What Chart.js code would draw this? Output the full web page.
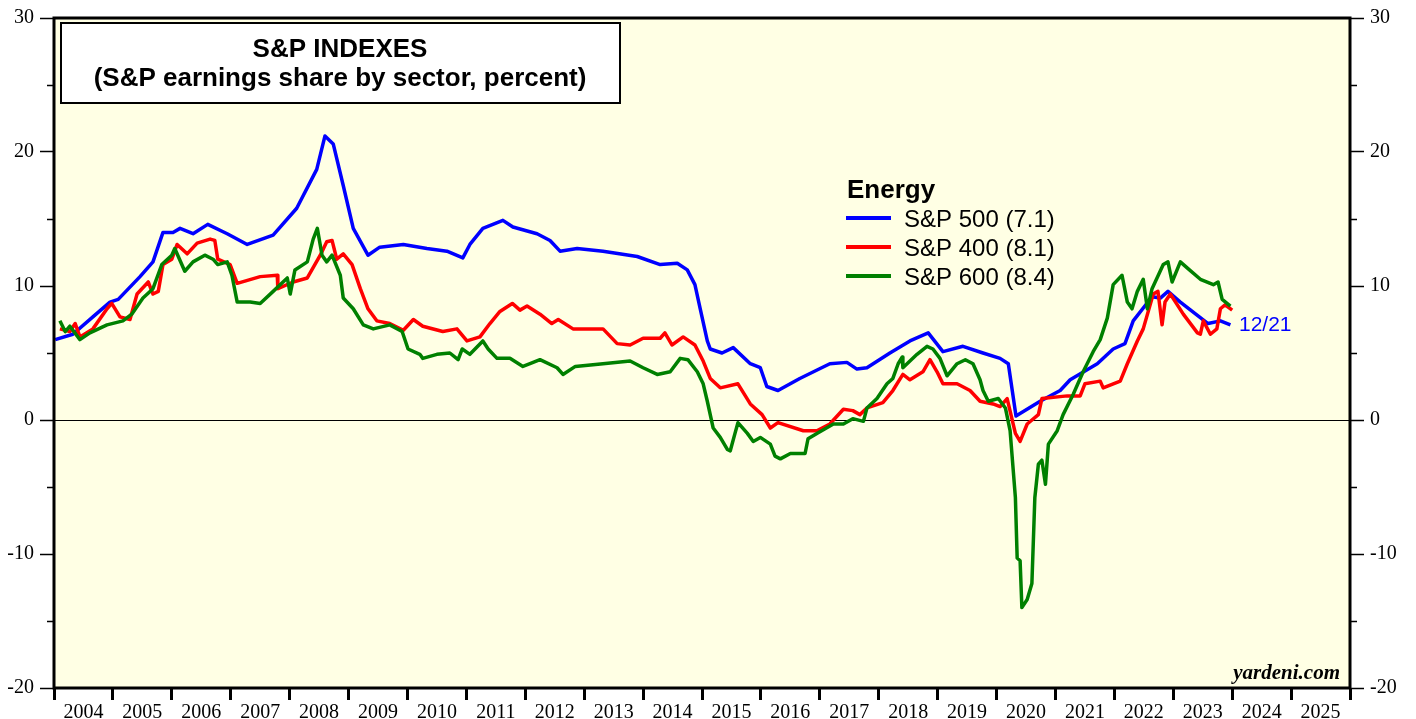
<!DOCTYPE html>
<html>
<head>
<meta charset="utf-8">
<title>S&amp;P Indexes - Energy earnings share</title>
<script src="https://cdn.jsdelivr.net/npm/chart.js@4.4.1/dist/chart.umd.min.js"></script>
<style>
  html, body { margin: 0; padding: 0; background: #fff; }
  #myChart { display: block; }
</style>
</head>
<body>
<canvas id="myChart" width="1416" height="719"></canvas>
<script>
// values (x = decimal year, y = percent)
var sp500Dates = [2004.02, 2004.32, 2004.66, 2004.95, 2005.09, 2005.46, 2005.68, 2005.85, 2006.02, 2006.14,
    2006.36, 2006.61, 2006.94, 2007.28, 2007.72, 2008.12, 2008.46, 2008.60, 2008.74, 2008.91,
    2009.08, 2009.33, 2009.53, 2009.93, 2010.33, 2010.67, 2010.94, 2011.06, 2011.28, 2011.62,
    2011.79, 2012.20, 2012.42, 2012.59, 2012.88, 2013.32, 2013.90, 2014.29, 2014.58, 2014.75,
    2014.88, 2014.97, 2015.09, 2015.14, 2015.34, 2015.53, 2015.82, 2015.99, 2016.10, 2016.29,
    2016.66, 2017.17, 2017.46, 2017.63, 2017.80, 2018.19, 2018.53, 2018.84, 2019.09, 2019.43,
    2019.77, 2020.06, 2020.20, 2020.33, 2020.74, 2021.08, 2021.25, 2021.71, 2021.98, 2022.18,
    2022.32, 2022.64, 2022.78, 2022.91, 2023.12, 2023.59, 2023.80, 2023.97];
var sp500Vals = [6.0, 6.4, 7.7, 8.8, 9.0, 10.7, 11.8, 14.0, 14.0, 14.3,
    13.9, 14.6, 13.9, 13.1, 13.8, 15.8, 18.7, 21.2, 20.6, 17.5,
    14.3, 12.3, 12.9, 13.1, 12.8, 12.6, 12.1, 13.1, 14.3, 14.9,
    14.4, 13.9, 13.4, 12.6, 12.8, 12.6, 12.2, 11.6, 11.7, 11.2,
    10.1, 8.3, 5.9, 5.3, 5.0, 5.4, 4.2, 3.9, 2.5, 2.2,
    3.1, 4.2, 4.3, 3.8, 3.9, 5.0, 5.9, 6.5, 5.1, 5.5,
    5.0, 4.6, 4.2, 0.3, 1.4, 2.2, 3.0, 4.2, 5.3, 5.7,
    7.4, 9.2, 9.1, 9.6, 8.8, 7.2, 7.4, 7.1];

var sp400Dates = [2004.10, 2004.27, 2004.36, 2004.44, 2004.66, 2004.90, 2004.98, 2005.12, 2005.29, 2005.41,
    2005.60, 2005.68, 2005.77, 2005.85, 2006.00, 2006.09, 2006.26, 2006.43, 2006.65, 2006.73,
    2006.78, 2006.99, 2007.11, 2007.50, 2007.79, 2007.80, 2008.06, 2008.30, 2008.52, 2008.63,
    2008.72, 2008.80, 2008.91, 2009.06, 2009.20, 2009.33, 2009.48, 2009.70, 2009.93, 2010.10,
    2010.26, 2010.60, 2010.84, 2011.01, 2011.23, 2011.40, 2011.57, 2011.78, 2011.91, 2012.03,
    2012.25, 2012.45, 2012.56, 2012.81, 2013.32, 2013.56, 2013.78, 2014.00, 2014.29, 2014.37,
    2014.49, 2014.68, 2014.88, 2015.02, 2015.14, 2015.31, 2015.61, 2015.82, 2016.02, 2016.16,
    2016.29, 2016.72, 2016.95, 2017.17, 2017.40, 2017.56, 2017.68, 2017.80, 2018.07, 2018.24,
    2018.41, 2018.53, 2018.75, 2018.87, 2018.99, 2019.09, 2019.33, 2019.55, 2019.72, 2019.94,
    2020.06, 2020.18, 2020.32, 2020.40, 2020.52, 2020.71, 2020.77, 2021.20, 2021.42, 2021.50,
    2021.76, 2021.81, 2022.10, 2022.22, 2022.39, 2022.49, 2022.66, 2022.74, 2022.81, 2022.86,
    2022.95, 2023.17, 2023.41, 2023.46, 2023.51, 2023.63, 2023.74, 2023.80, 2023.88, 2024.00];
var sp400Vals = [6.8, 6.6, 7.2, 6.2, 6.8, 8.3, 8.7, 7.7, 7.5, 9.4,
    10.3, 9.4, 9.6, 11.6, 12.0, 13.1, 12.4, 13.2, 13.5, 13.4,
    12.0, 11.6, 10.2, 10.7, 10.8, 9.8, 10.3, 10.6, 12.3, 13.3,
    13.4, 12.0, 12.4, 11.6, 9.8, 8.3, 7.4, 7.2, 6.7, 7.5,
    7.0, 6.6, 6.8, 5.9, 6.2, 7.2, 8.1, 8.7, 8.2, 8.5,
    7.9, 7.2, 7.5, 6.8, 6.8, 5.7, 5.6, 6.1, 6.1, 6.5,
    5.6, 6.2, 5.6, 4.4, 3.1, 2.4, 2.7, 1.2, 0.4, -0.6,
    -0.2, -0.8, -0.8, -0.3, 0.8, 0.7, 0.4, 0.9, 1.3, 2.2,
    3.4, 3.0, 3.6, 4.5, 3.6, 2.7, 2.7, 2.2, 1.4, 1.2,
    1.0, 1.6, -1.0, -1.6, -0.3, 0.4, 1.6, 1.8, 1.8, 2.7,
    2.9, 2.4, 2.9, 4.2, 5.9, 6.8, 9.4, 9.6, 7.1, 8.8,
    9.4, 7.9, 6.5, 6.4, 7.4, 6.4, 6.8, 8.3, 8.6, 8.2];

var sp600Dates = [2004.10, 2004.19, 2004.27, 2004.44, 2004.61, 2004.90, 2005.17, 2005.32, 2005.51, 2005.68,
    2005.83, 2006.00, 2006.05, 2006.22, 2006.36, 2006.56, 2006.70, 2006.78, 2006.94, 2007.02,
    2007.11, 2007.33, 2007.50, 2007.72, 2007.96, 2008.01, 2008.09, 2008.30, 2008.40, 2008.47,
    2008.55, 2008.63, 2008.72, 2008.86, 2008.91, 2009.08, 2009.25, 2009.42, 2009.70, 2009.91,
    2010.01, 2010.21, 2010.26, 2010.50, 2010.72, 2010.86, 2010.93, 2011.06, 2011.28, 2011.37,
    2011.52, 2011.74, 2011.96, 2012.08, 2012.25, 2012.54, 2012.64, 2012.85, 2013.32, 2013.78,
    2014.00, 2014.24, 2014.46, 2014.63, 2014.76, 2014.92, 2015.02, 2015.09, 2015.19, 2015.31,
    2015.43, 2015.48, 2015.56, 2015.61, 2015.77, 2015.87, 2015.99, 2016.16, 2016.24, 2016.33,
    2016.50, 2016.75, 2016.80, 2016.95, 2017.23, 2017.40, 2017.56, 2017.74, 2017.80, 2017.97,
    2018.14, 2018.24, 2018.33, 2018.40, 2018.41, 2018.65, 2018.82, 2018.92, 2019.04, 2019.16,
    2019.33, 2019.47, 2019.60, 2019.72, 2019.77, 2019.86, 2020.03, 2020.15, 2020.23, 2020.32,
    2020.35, 2020.40, 2020.43, 2020.52, 2020.60, 2020.65, 2020.71, 2020.77, 2020.83, 2020.88,
    2021.03, 2021.13, 2021.30, 2021.47, 2021.64, 2021.76, 2021.88, 2021.98, 2022.13, 2022.22,
    2022.30, 2022.39, 2022.49, 2022.56, 2022.64, 2022.83, 2022.91, 2022.98, 2023.12, 2023.25,
    2023.46, 2023.68, 2023.76, 2023.83, 2023.97];
var sp600Vals = [7.4, 6.6, 7.0, 6.0, 6.5, 7.1, 7.4, 7.9, 9.1, 9.8,
    11.6, 12.3, 12.8, 11.1, 11.8, 12.3, 12.0, 11.6, 11.8, 10.8,
    8.8, 8.8, 8.7, 9.6, 10.6, 9.4, 11.2, 11.8, 13.5, 14.3,
    12.3, 11.8, 12.3, 10.8, 9.1, 8.3, 7.1, 6.8, 7.1, 6.6,
    5.3, 4.9, 4.6, 4.9, 5.0, 4.5, 5.3, 4.9, 5.9, 5.3,
    4.6, 4.6, 4.0, 4.2, 4.5, 3.9, 3.4, 4.0, 4.2, 4.4,
    3.9, 3.4, 3.6, 4.6, 4.5, 3.6, 2.7, 1.4, -0.6, -1.3,
    -2.2, -2.3, -1.0, -0.2, -1.0, -1.6, -1.3, -1.8, -2.7, -2.9,
    -2.5, -2.5, -1.4, -1.0, -0.3, -0.3, 0.1, -0.1, 0.9, 1.6,
    2.7, 3.1, 4.2, 4.7, 3.9, 4.9, 5.5, 5.3, 4.6, 3.3,
    4.2, 4.5, 4.2, 3.0, 2.2, 1.4, 1.6, 0.9, -0.8, -5.8,
    -10.3, -10.5, -14.0, -13.4, -12.2, -5.8, -3.3, -3.0, -4.8, -1.8,
    -0.8, 0.4, 1.9, 3.6, 5.1, 6.0, 7.6, 10.1, 10.8, 8.8,
    8.3, 9.6, 10.5, 8.3, 9.8, 11.6, 11.8, 10.3, 11.8, 11.3,
    10.5, 10.1, 10.3, 9.0, 8.5];

var seriesLabels = ['S&P 500 (7.1)', 'S&P 400 (8.1)', 'S&P 600 (8.4)'];
var seriesColors = ['#0000FF', '#FF0000', '#008000'];
var minorTicks = [25, 15, 5, -5, -15];
var titleLines = ['S&P INDEXES', '(S&P earnings share by sector, percent)'];
var legendTitle = 'Energy';
var lastDateLabel = '12/21';
var sourceText = 'yardeni.com';

function toPoints(dates, vals) {
    var pts = [];
    for (var i = 0; i < dates.length; i++) {
        pts.push({ x: dates[i], y: vals[i] });
    }
    return pts;
}

var SANS = "'Liberation Sans', Arial, Helvetica, sans-serif";
var SERIF = "'Liberation Serif', 'Times New Roman', serif";

// background, frame, title box, legend and notes
var decorPlugin = {
    id: 'decor',
    beforeDraw: function (chart) {
        var ctx = chart.ctx, a = chart.chartArea;
        ctx.save();
        ctx.fillStyle = '#ffffff';
        ctx.fillRect(0, 0, chart.width, chart.height);
        ctx.fillStyle = '#FFFFE4';
        ctx.fillRect(a.left, a.top, a.right - a.left, a.bottom - a.top);
        ctx.restore();
    },
    afterDraw: function (chart) {
        var ctx = chart.ctx, a = chart.chartArea;
        var y = chart.scales.y;
        ctx.save();

        // minor ticks at the 5s, both sides
        ctx.strokeStyle = '#000';
        ctx.lineWidth = 1.5;
        minorTicks.forEach(function (v) {
            var py = Math.round(y.getPixelForValue(v)) + 0.5;
            ctx.beginPath();
            ctx.moveTo(a.left - 7, py); ctx.lineTo(a.left, py);
            ctx.moveTo(a.right, py); ctx.lineTo(a.right + 7, py);
            ctx.stroke();
        });

        // frame
        ctx.lineWidth = 3;
        ctx.strokeRect(a.left, a.top, a.right - a.left, a.bottom - a.top);

        // title box
        ctx.fillStyle = '#fff';
        ctx.fillRect(61, 23, 559, 80);
        ctx.lineWidth = 2;
        ctx.strokeRect(61, 23, 559, 80);
        ctx.fillStyle = '#000';
        ctx.textAlign = 'center';
        ctx.textBaseline = 'alphabetic';
        ctx.font = 'bold 26px ' + SANS;
        ctx.fillText(titleLines[0], 340, 57);
        ctx.fillText(titleLines[1], 340, 86);

        // legend
        ctx.textAlign = 'left';
        ctx.font = 'bold 26px ' + SANS;
        ctx.fillText(legendTitle, 847, 198);
        ctx.font = '24px ' + SANS;
        ctx.textBaseline = 'middle';
        for (var i = 0; i < seriesLabels.length; i++) {
            var ly = 218 + i * 29;
            ctx.strokeStyle = seriesColors[i];
            ctx.lineWidth = 4;
            ctx.beginPath();
            ctx.moveTo(846, ly); ctx.lineTo(891, ly);
            ctx.stroke();
            ctx.fillStyle = '#000';
            ctx.fillText(seriesLabels[i], 904, ly + 2);
        }

        // last date note next to the blue line
        ctx.fillStyle = '#0000FF';
        ctx.font = '21px ' + SANS;
        ctx.fillText(lastDateLabel, 1239, 325);

        // source
        ctx.fillStyle = '#000';
        ctx.textAlign = 'right';
        ctx.textBaseline = 'alphabetic';
        ctx.font = 'italic bold 21px ' + SERIF;
        ctx.fillText(sourceText, 1340, 679);
        ctx.restore();
    }
};

var chartdata = {
    datasets: [
        { label: seriesLabels[2], data: toPoints(sp600Dates, sp600Vals), borderColor: seriesColors[2] },
        { label: seriesLabels[1], data: toPoints(sp400Dates, sp400Vals), borderColor: seriesColors[1] },
        { label: seriesLabels[0], data: toPoints(sp500Dates, sp500Vals), borderColor: seriesColors[0] }
    ]
};
chartdata.datasets.forEach(function (ds) {
    ds.borderWidth = 3.5;
    ds.pointRadius = 0;
    ds.tension = 0;
    ds.fill = false;
    ds.borderJoinStyle = 'round';
});

var yTicks = {
    stepSize: 10,
    color: '#000',
    padding: 6,
    font: { family: SERIF, size: 20 }
};

var ctx = document.getElementById('myChart');
var lineGraph = new Chart(ctx, {
    type: 'line',
    data: chartdata,
    plugins: [decorPlugin],
    options: {
        responsive: false,
        devicePixelRatio: 1,
        animation: false,
        layout: { padding: { top: 15, left: 0, right: 0, bottom: 0 } },
        plugins: {
            legend: { display: false },
            tooltip: { enabled: false }
        },
        scales: {
            x: {
                type: 'linear',
                position: 'bottom',
                min: 2004,
                max: 2026,
                afterFit: function (scale) { scale.height = 31; },
                ticks: {
                    stepSize: 1,
                    autoSkip: false,
                    maxRotation: 0,
                    labelOffset: 29.45,
                    padding: 1,
                    color: '#000',
                    font: { family: SERIF, size: 20 },
                    callback: function (v) { return v < 2026 ? String(v) : ''; }
                },
                grid: { drawOnChartArea: false, tickLength: 12, tickWidth: 3, tickColor: '#000' },
                border: { display: false }
            },
            y: {
                position: 'left',
                min: -20,
                max: 30,
                afterFit: function (scale) { scale.width = 54; },
                ticks: yTicks,
                grid: {
                    drawOnChartArea: true,
                    color: function (c) { return c.tick && c.tick.value === 0 ? '#000' : 'rgba(0,0,0,0)'; },
                    lineWidth: 1,
                    tickLength: 14,
                    tickWidth: 1.5,
                    tickColor: '#000'
                },
                border: { display: false }
            },
            y2: {
                position: 'right',
                min: -20,
                max: 30,
                afterFit: function (scale) { scale.width = 66; },
                ticks: yTicks,
                grid: { drawOnChartArea: false, tickLength: 14, tickWidth: 1.5, tickColor: '#000' },
                border: { display: false }
            }
        }
    }
});
</script>
</body>
</html>
